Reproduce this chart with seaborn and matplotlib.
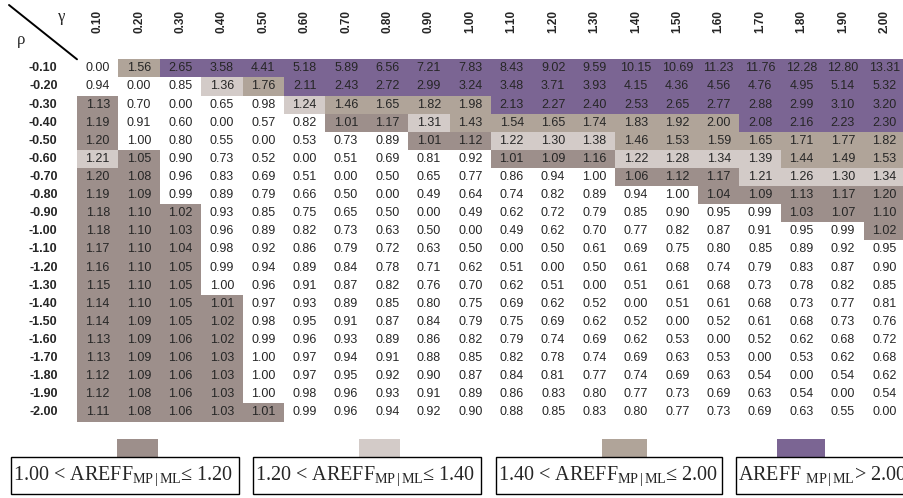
import numpy as np
import pandas as pd
import matplotlib
matplotlib.use("Agg")
import matplotlib.pyplot as plt
from matplotlib.colors import ListedColormap, BoundaryNorm
from matplotlib.patches import Rectangle
from matplotlib.lines import Line2D
import seaborn as sns

# ---------------- data ----------------
gamma_labels = ["0.10", "0.20", "0.30", "0.40", "0.50", "0.60", "0.70", "0.80", "0.90", "1.00",
                "1.10", "1.20", "1.30", "1.40", "1.50", "1.60", "1.70", "1.80", "1.90", "2.00"]
rho_labels = ["-0.10", "-0.20", "-0.30", "-0.40", "-0.50", "-0.60", "-0.70", "-0.80", "-0.90", "-1.00",
              "-1.10", "-1.20", "-1.30", "-1.40", "-1.50", "-1.60", "-1.70", "-1.80", "-1.90", "-2.00"]

rho_m010 = [0.00, 1.56, 2.65, 3.58, 4.41, 5.18, 5.89, 6.56, 7.21, 7.83, 8.43, 9.02, 9.59, 10.15, 10.69, 11.23, 11.76, 12.28, 12.80, 13.31]
rho_m020 = [0.94, 0.00, 0.85, 1.36, 1.76, 2.11, 2.43, 2.72, 2.99, 3.24, 3.48, 3.71, 3.93, 4.15, 4.36, 4.56, 4.76, 4.95, 5.14, 5.32]
rho_m030 = [1.13, 0.70, 0.00, 0.65, 0.98, 1.24, 1.46, 1.65, 1.82, 1.98, 2.13, 2.27, 2.40, 2.53, 2.65, 2.77, 2.88, 2.99, 3.10, 3.20]
rho_m040 = [1.19, 0.91, 0.60, 0.00, 0.57, 0.82, 1.01, 1.17, 1.31, 1.43, 1.54, 1.65, 1.74, 1.83, 1.92, 2.00, 2.08, 2.16, 2.23, 2.30]
rho_m050 = [1.20, 1.00, 0.80, 0.55, 0.00, 0.53, 0.73, 0.89, 1.01, 1.12, 1.22, 1.30, 1.38, 1.46, 1.53, 1.59, 1.65, 1.71, 1.77, 1.82]
rho_m060 = [1.21, 1.05, 0.90, 0.73, 0.52, 0.00, 0.51, 0.69, 0.81, 0.92, 1.01, 1.09, 1.16, 1.22, 1.28, 1.34, 1.39, 1.44, 1.49, 1.53]
rho_m070 = [1.20, 1.08, 0.96, 0.83, 0.69, 0.51, 0.00, 0.50, 0.65, 0.77, 0.86, 0.94, 1.00, 1.06, 1.12, 1.17, 1.21, 1.26, 1.30, 1.34]
rho_m080 = [1.19, 1.09, 0.99, 0.89, 0.79, 0.66, 0.50, 0.00, 0.49, 0.64, 0.74, 0.82, 0.89, 0.94, 1.00, 1.04, 1.09, 1.13, 1.17, 1.20]
rho_m090 = [1.18, 1.10, 1.02, 0.93, 0.85, 0.75, 0.65, 0.50, 0.00, 0.49, 0.62, 0.72, 0.79, 0.85, 0.90, 0.95, 0.99, 1.03, 1.07, 1.10]
rho_m100 = [1.18, 1.10, 1.03, 0.96, 0.89, 0.82, 0.73, 0.63, 0.50, 0.00, 0.49, 0.62, 0.70, 0.77, 0.82, 0.87, 0.91, 0.95, 0.99, 1.02]
rho_m110 = [1.17, 1.10, 1.04, 0.98, 0.92, 0.86, 0.79, 0.72, 0.63, 0.50, 0.00, 0.50, 0.61, 0.69, 0.75, 0.80, 0.85, 0.89, 0.92, 0.95]
rho_m120 = [1.16, 1.10, 1.05, 0.99, 0.94, 0.89, 0.84, 0.78, 0.71, 0.62, 0.51, 0.00, 0.50, 0.61, 0.68, 0.74, 0.79, 0.83, 0.87, 0.90]
rho_m130 = [1.15, 1.10, 1.05, 1.00, 0.96, 0.91, 0.87, 0.82, 0.76, 0.70, 0.62, 0.51, 0.00, 0.51, 0.61, 0.68, 0.73, 0.78, 0.82, 0.85]
rho_m140 = [1.14, 1.10, 1.05, 1.01, 0.97, 0.93, 0.89, 0.85, 0.80, 0.75, 0.69, 0.62, 0.52, 0.00, 0.51, 0.61, 0.68, 0.73, 0.77, 0.81]
rho_m150 = [1.14, 1.09, 1.05, 1.02, 0.98, 0.95, 0.91, 0.87, 0.84, 0.79, 0.75, 0.69, 0.62, 0.52, 0.00, 0.52, 0.61, 0.68, 0.73, 0.76]
rho_m160 = [1.13, 1.09, 1.06, 1.02, 0.99, 0.96, 0.93, 0.89, 0.86, 0.82, 0.79, 0.74, 0.69, 0.62, 0.53, 0.00, 0.52, 0.62, 0.68, 0.72]
rho_m170 = [1.13, 1.09, 1.06, 1.03, 1.00, 0.97, 0.94, 0.91, 0.88, 0.85, 0.82, 0.78, 0.74, 0.69, 0.63, 0.53, 0.00, 0.53, 0.62, 0.68]
rho_m180 = [1.12, 1.09, 1.06, 1.03, 1.00, 0.97, 0.95, 0.92, 0.90, 0.87, 0.84, 0.81, 0.77, 0.74, 0.69, 0.63, 0.54, 0.00, 0.54, 0.62]
rho_m190 = [1.12, 1.08, 1.06, 1.03, 1.00, 0.98, 0.96, 0.93, 0.91, 0.89, 0.86, 0.83, 0.80, 0.77, 0.73, 0.69, 0.63, 0.54, 0.00, 0.54]
rho_m200 = [1.11, 1.08, 1.06, 1.03, 1.01, 0.99, 0.96, 0.94, 0.92, 0.90, 0.88, 0.85, 0.83, 0.80, 0.77, 0.73, 0.69, 0.63, 0.55, 0.00]

# class thresholds for AREFF_MP|ML (upper bounds inclusive)
class_edges = [1.00, 1.20, 1.40, 2.00]
legend_labels = [r"1.00 < AREFF$_{\mathrm{MP\,|\,ML}}$≤ 1.20",
                 r"1.20 < AREFF$_{\mathrm{MP\,|\,ML}}$≤ 1.40",
                 r"1.40 < AREFF$_{\mathrm{MP\,|\,ML}}$≤ 2.00",
                 r"AREFF $_{\mathrm{MP\,|\,ML}}$> 2.00"]

# ---------------- style ----------------
sns.set_style("white")
plt.rcParams["font.family"] = ["Liberation Sans", "DejaVu Sans"]
plt.rcParams["mathtext.fontset"] = "custom"
plt.rcParams["mathtext.rm"] = "Liberation Serif"
plt.rcParams["mathtext.it"] = "Liberation Serif:italic"
plt.rcParams["mathtext.bf"] = "Liberation Serif:bold"

c_white = "#ffffff"
c_dark = "#9d8f8b"
c_light = "#d3cbc8"
c_tan = "#b0a499"
c_purple = "#7b6593"
class_colors = [c_dark, c_light, c_tan, c_purple]

rows = [rho_m010, rho_m020, rho_m030, rho_m040, rho_m050, rho_m060, rho_m070, rho_m080, rho_m090, rho_m100,
        rho_m110, rho_m120, rho_m130, rho_m140, rho_m150, rho_m160, rho_m170, rho_m180, rho_m190, rho_m200]
df = pd.DataFrame(np.array(rows), index=rho_labels, columns=gamma_labels)

bounds = [-1.0] + [e + 0.005 for e in class_edges] + [1000.0]
cmap = ListedColormap([c_white] + class_colors)
norm = BoundaryNorm(bounds, cmap.N)

W, H = 904, 498
fig = plt.figure(figsize=(W / 100, H / 100), dpi=100)
ax_left, ax_right, ax_top, ax_bot = 77, 905, 59.3, 421.5
ax = fig.add_axes([ax_left / W, 1 - ax_bot / H, (ax_right - ax_left) / W, (ax_bot - ax_top) / H])

sns.heatmap(df, ax=ax, cmap=cmap, norm=norm, cbar=False, annot=True, fmt=".2f",
            annot_kws={"fontsize": 9, "color": "#262626"}, linewidths=0)

ax.xaxis.tick_top()
ax.set_xticks(np.arange(len(gamma_labels)) + 0.5)
ax.set_xticklabels(gamma_labels, rotation=90, fontweight="bold", fontsize=8.5)
ax.set_yticks(np.arange(len(rho_labels)) + 0.5)
ax.set_yticklabels(rho_labels, rotation=0, fontweight="bold", fontsize=9)
ax.tick_params(axis="x", length=0, pad=19, top=True, bottom=False, labeltop=True, labelbottom=False)
ax.tick_params(axis="y", length=0, pad=14)
ax.set_xlabel("")
ax.set_ylabel("")
for s in ax.spines.values():
    s.set_visible(False)

# corner diagonal with gamma / rho
fig.add_artist(Line2D([9 / W, ax_left / W], [1 - 5 / H, 1 - ax_top / H], color="black", lw=1.4,
                      transform=fig.transFigure))
fig.text(62 / W, 1 - 17 / H, "γ", fontsize=12, family=["Liberation Serif", "DejaVu Serif"],
         ha="center", va="center")
fig.text(21 / W, 1 - 40 / H, "ρ", fontsize=12, family=["Liberation Serif", "DejaVu Serif"],
         ha="center", va="center")

# legend boxes
box_x = [(10.7, 239), (253, 481), (496, 722), (736, 960)]
sq_x = [(117, 158), (359, 400), (602, 647), (777, 825)]
box_y0, box_y1 = 457, 494
sq_y0, sq_y1 = 439, 457
for (bx0, bx1), (sx0, sx1), col, lab in zip(box_x, sq_x, class_colors, legend_labels):
    fig.add_artist(Rectangle((sx0 / W, 1 - sq_y1 / H), (sx1 - sx0) / W, (sq_y1 - sq_y0) / H,
                             transform=fig.transFigure, facecolor=col, edgecolor="none"))
    fig.add_artist(Rectangle((bx0 / W, 1 - box_y1 / H), (bx1 - bx0) / W, (box_y1 - box_y0) / H,
                             transform=fig.transFigure, facecolor="white", edgecolor="black", lw=1.0))
    fig.text((bx0 + 2) / W, 1 - ((box_y0 + box_y1) / 2 + 1) / H, lab, fontsize=14.5,
             family=["Liberation Serif", "DejaVu Serif"], ha="left", va="center")

fig.savefig("out.png", dpi=100)
